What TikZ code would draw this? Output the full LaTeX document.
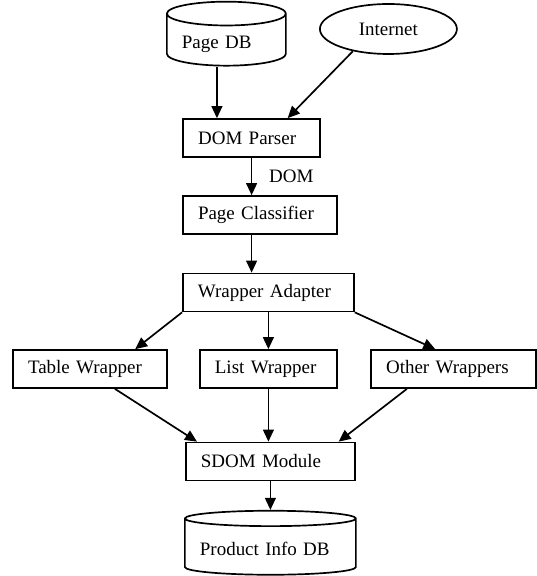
\documentclass[tikz,border=0pt]{standalone}
\usepackage{fontspec}
\setmainfont{Liberation Serif}
\usetikzlibrary{arrows.meta,calc,shapes.geometric}

\tikzset{
  box/.style={draw,rectangle,line width=1.2pt,inner xsep=.375cm,inner ysep=0pt,
    minimum height=.95cm,text width=#1,align=left,font=\fontsize{13.5}{16}\selectfont},
  store/.style={draw,cylinder,shape border rotate=90,line width=1.2pt,inner xsep=.375cm,
    text width=#1,align=left,font=\fontsize{13.5}{16}\selectfont},
  link/.style={line width=1.2pt,-{Triangle[length=3mm,width=2.7mm]}}
}

\begin{document}
\begin{tikzpicture}
\useasboundingbox (0,0) rectangle (13.425,14.4);

% sources
\node[store=2.225cm,aspect=.2,minimum width=2.975cm,minimum height=1.6cm] (pagedb) at (5.66,13.3) {Page DB};
\node[draw,ellipse,line width=1.2pt,minimum width=3.425cm,minimum height=1.25cm,
  font=\fontsize{13.5}{16}\selectfont] (internet) at (9.71,13.675) {Internet};

% pipeline
\node[box=2.675cm] (parser) at (6.29,10.95) {DOM Parser};
\node[box=3.1cm] (classifier) at (6.5,9.025) {Page Classifier};
\node[box=3.525cm] (adapter) at (6.71,7.0875) {Wrapper Adapter};

% wrappers
\node[box=3.1cm] (table) at (2.25,5.175) {Table Wrapper};
\node[box=2.675cm] (list) at (6.71,5.175) {List Wrapper};
\node[box=3.375cm] (other) at (11.34,5.175) {Other Wrappers};

% output
\node[box=3.475cm] (sdom) at (6.76,2.8625) {SDOM Module};
\node[store=3.525cm,aspect=.09,minimum width=4.275cm,minimum height=1.6cm] (productdb) at (6.76,.67) {Product Info DB};

\coordinate (pIn1) at ($(parser.north west)!.25!(parser.north east)$);
\coordinate (pIn2) at ($(parser.north west)!.76!(parser.north east)$);
\draw[link] (pagedb.south -| pIn1) -- (pIn1);
\draw[link] (internet.212) -- (pIn2);
\draw[link] (parser.south) -- (parser.south |- classifier.north)
  node[midway,right,xshift=.3cm,font=\fontsize{13.5}{16}\selectfont] (domlbl) {DOM};
\draw[link] (classifier.south -| parser.south) -- (parser.south |- adapter.north);

\draw[link] (adapter.south west) -- ($(table.north west)!.79!(table.north east)$);
\draw[link] (adapter.south) -- (list.north);
\draw[link] (adapter.south east) -- ($(other.north west)!.39!(other.north east)$);

\draw[link] ($(table.south west)!.66!(table.south east)$) -- ($(sdom.north west)!.07!(sdom.north east)$);
\draw[link] (list.south) -- (list.south |- sdom.north);
\draw[link] ($(other.south west)!.22!(other.south east)$) -- ($(sdom.north west)!.9!(sdom.north east)$);
\draw[link] (sdom.south) -- (sdom.south |- productdb.north);

\end{tikzpicture}
\end{document}
